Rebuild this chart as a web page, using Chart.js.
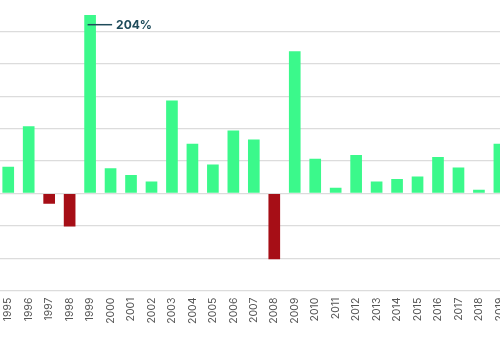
<!DOCTYPE html>
<html lang="en">
<head>
    <meta charset="UTF-8">
    <title>Annual returns 1995-2019</title>
    <style>
        html, body {
            margin: 0;
            width: 500px;
            height: 350px;
            overflow: hidden;
            background: #fff;
        }
        #wrap {
            position: absolute;
            left: -2px;
            top: 0;
            width: 521px;
            height: 350px;
        }
    </style>
</head>
<body>
    <div id="wrap"><canvas id="returnsChart"></canvas></div>

    <script src="https://cdn.jsdelivr.net/npm/chart.js"></script>
    <script>
        // data (percent)
        const years = ['1995', '1996', '1997', '1998', '1999', '2000', '2001', '2002', '2003',
            '2004', '2005', '2006', '2007', '2008', '2009', '2010', '2011', '2012', '2013',
            '2014', '2015', '2016', '2017', '2018', '2019'];
        const returns = [30.6, 76.9, -11.8, -37.9, 204, 28.7, 21.1, 13.8, 106.4,
            56.7, 33, 72, 61.6, -75.3, 162.6, 39.8, 6.5, 44, 13.8,
            16.5, 19.5, 41.8, 29.8, 4.2, 56.7];
        const gridStep = 37;
        const axisMin = -111;
        const axisMax = 204;
        const calloutIndex = 4;
        const calloutLabel = '204%';

        const green = '#3bf98b';
        const red = '#a60e16';
        const calloutColor = '#1e4b5a';

        // small line + label next to the tallest bar
        const callout = {
            id: 'callout',
            afterDatasetsDraw(chart) {
                const bar = chart.getDatasetMeta(0).data[calloutIndex];
                if (!bar) return;
                const c = chart.ctx;
                const x = bar.x - 2.5;
                const y = bar.y + 9.7;
                c.save();
                c.strokeStyle = calloutColor;
                c.lineWidth = 1.5;
                c.beginPath();
                c.moveTo(x, y);
                c.lineTo(x + 24.5, y);
                c.stroke();
                c.fillStyle = calloutColor;
                c.font = 'bold 12px Inter, "Open Sans", sans-serif';
                c.textBaseline = 'middle';
                c.fillText(calloutLabel, x + 28.5, y + 0.5);
                c.restore();
            }
        };

        new Chart(document.getElementById('returnsChart'), {
            type: 'bar',
            data: {
                labels: years,
                datasets: [{
                    data: returns,
                    backgroundColor: returns.map(v => v < 0 ? red : green),
                    categoryPercentage: 1,
                    barPercentage: 0.57,
                    borderWidth: 0
                }]
            },
            options: {
                responsive: true,
                maintainAspectRatio: false,
                animation: false,
                layout: { padding: { top: 15, bottom: 19 } },
                plugins: {
                    legend: { display: false },
                    tooltip: { enabled: false }
                },
                scales: {
                    x: {
                        grid: { display: false, drawTicks: false },
                        border: { display: false },
                        ticks: {
                            color: '#555',
                            padding: 7,
                            minRotation: 90,
                            maxRotation: 90,
                            autoSkip: false,
                            font: { family: 'Inter, "Open Sans", sans-serif', size: 10.5 }
                        }
                    },
                    y: {
                        min: axisMin,
                        max: axisMax,
                        border: { display: false },
                        grid: {
                            drawTicks: false,
                            lineWidth: 1.3,
                            color: ctx => ctx.tick && ctx.tick.value > 185 ? 'rgba(0,0,0,0)' : '#dcdcdc'
                        },
                        ticks: { display: false, stepSize: gridStep }
                    }
                }
            },
            plugins: [callout]
        });
    </script>
</body>
</html>
